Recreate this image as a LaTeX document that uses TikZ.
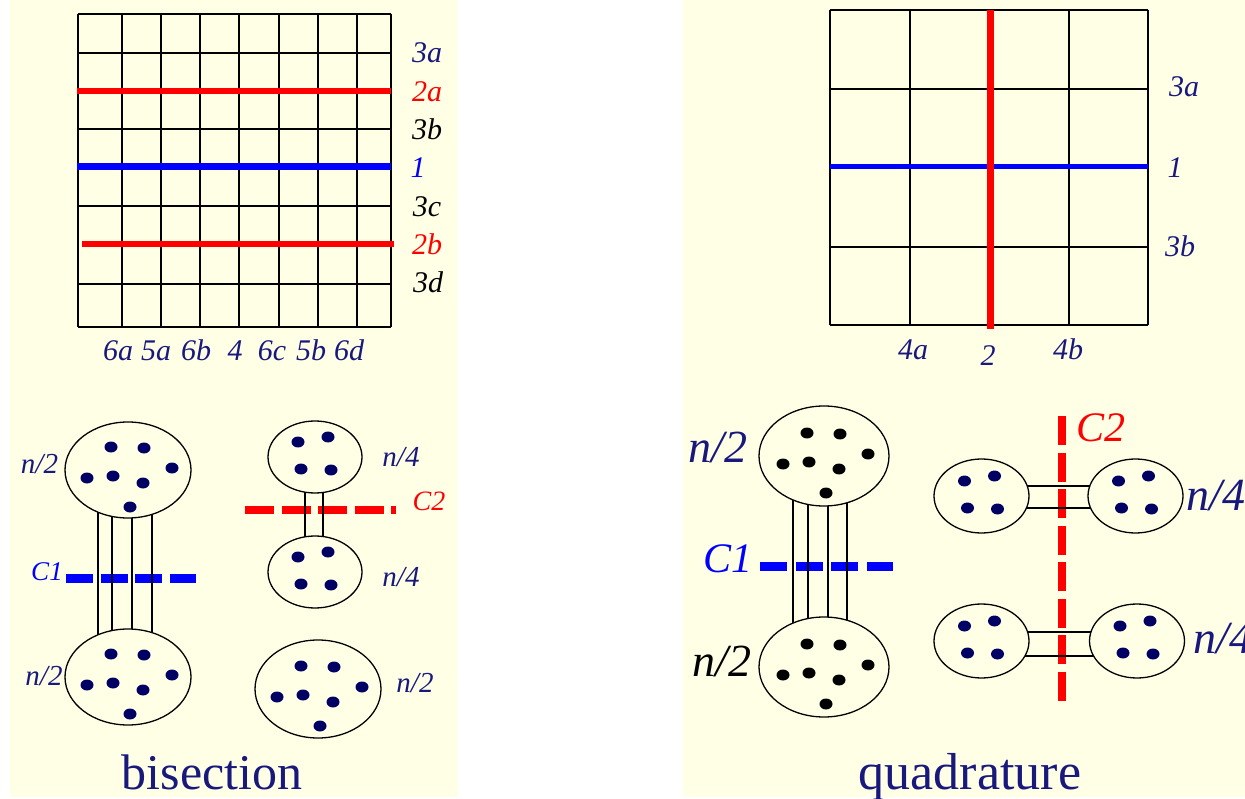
\documentclass[tikz,border=0pt]{standalone}
\usepackage{fontspec}
\setmainfont{Liberation Serif}
\newfontfamily\tnr{Liberation Serif}
\usetikzlibrary{shapes.geometric,calc}
\definecolor{cream}{RGB}{255,255,230}
\definecolor{navy}{RGB}{25,25,125}
\definecolor{dotnavy}{RGB}{0,0,100}
\newcommand\fsz[1]{\tnr\fontsize{#1}{#1}\selectfont}
\newcommand\sevendots[2]{\foreach \dx/\dy in {-17/-23,16/-22,44/-2,-41/8,-15/6,15/13,2/37}{\fill[#2] ($(#1)+(\dx,\dy)$) ellipse [x radius=6.5pt,y radius=5.5pt];}}
\newcommand\fourdots[2]{\foreach \dx/\dy in {-17/-15,13/-20,-14/12,16/13}{\fill[#2] ($(#1)+(\dx,\dy)$) ellipse [x radius=6.5pt,y radius=5.5pt];}}
\pgfdeclarelayer{panel}
\pgfdeclarelayer{links}
\pgfsetlayers{panel,links,main}
\begin{document}
\begin{tikzpicture}[x=1pt,y=-1pt,
  gridline/.style={line width=1.5pt,black},
  blob/.style={ellipse,draw,line width=1.3pt,fill=cream,inner sep=0pt,outer sep=0pt},
  bigblob/.style={blob,minimum width=126pt,minimum height=96pt},
  bigblobq/.style={blob,minimum width=130pt,minimum height=100pt},
  smallblob/.style={blob,minimum width=94pt,minimum height=72pt},
  link/.style={line width=1.2pt,black},
  lbl/.style={anchor=base,inner sep=0pt,font=\fsz{30}\itshape},
  lblbig/.style={anchor=base,inner sep=0pt,font=\fsz{46}\itshape},
  cutlbl/.style={anchor=base,inner sep=0pt,font=\fsz{42}\itshape},
  titlelbl/.style={anchor=base,inner sep=0pt,text=navy},
  bluecut/.style={blue,line width=9pt,dash pattern=on 27pt off 7.5pt},
  redcut/.style={red,line width=8.5pt,dash pattern=on 29pt off 7.5pt}
]
\useasboundingbox (0,0) rectangle (1245,799);
\begin{pgfonlayer}{panel}
\fill[white] (0,0) rectangle (1245,799);
\fill[cream] (10,0) rectangle (458,797);
\fill[cream] (683,0) rectangle (1245,797);
\end{pgfonlayer}

% ---------- left grid ----------
\foreach \x in {78,122,161,200,239,279,318,357,391} \draw[gridline] (\x,14) -- (\x,327);
\foreach \y in {14,53,129,206,284,327} \draw[gridline] (78,\y) -- (391,\y);
\draw[red,line width=6pt] (77,91) -- (391,91);
\draw[red,line width=6pt] (82,244) -- (394,244);
\draw[blue,line width=7pt] (77,167) -- (391,167);
\node[lbl,text=navy] (l3a) at (427,63) {3a};
\node[lbl,text=red] (l2a) at (427,102) {2a};
\node[lbl,text=black] (l3b) at (427,140) {3b};
\node[lbl,text=blue] (l1) at (418,178) {1};
\node[lbl,text=black] (l3c) at (427,217) {3c};
\node[lbl,text=red] (l2b) at (427,255) {2b};
\node[lbl,text=black] (l3d) at (428,293) {3d};
\node[lbl,text=navy] (l6a) at (118,361) {6a};
\node[lbl,text=navy] (l5a) at (156,361) {5a};
\node[lbl,text=navy] (l6b) at (196,361) {6b};
\node[lbl,text=navy] (l4) at (235,361) {4};
\node[lbl,text=navy] (l6c) at (272,361) {6c};
\node[lbl,text=navy] (l5b) at (311,361) {5b};
\node[lbl,text=navy] (l6d) at (349,361) {6d};

% ---------- right grid ----------
\foreach \x in {830,910,1069,1148} \draw[gridline] (\x,10) -- (\x,325);
\foreach \y in {10,89,247,325} \draw[gridline] (830,\y) -- (1148,\y);
\draw[blue,line width=5pt] (830,167) -- (1148,167);
\draw[red,line width=7pt] (990,10) -- (990,329);
\node[lbl,text=navy] (r3a) at (1184,97) {3a};
\node[lbl,text=navy] (r1) at (1175,178) {1};
\node[lbl,text=navy] (r3b) at (1180,257) {3b};
\node[lbl,text=navy] (r4a) at (913,360) {4a};
\node[lbl,text=navy] (r2) at (988,366) {2};
\node[lbl,text=navy] (r4b) at (1068,360) {4b};

% ---------- bisection ----------
\node[bigblob] (b1) at (128,470) {};
\node[bigblob] (b2) at (128,677) {};
\node[smallblob] (q1) at (315,457) {};
\node[smallblob] (q2) at (315,572) {};
\node[bigblob,minimum height=98pt] (b3) at (318,689) {};
\sevendots{b1}{dotnavy}
\sevendots{b2}{dotnavy}
\sevendots{b3}{dotnavy}
\fourdots{q1}{dotnavy}
\fourdots{q2}{dotnavy}
\coordinate (c1a) at (66,578);
\coordinate (c1b) at (196,578);
\coordinate (c2a) at (245,510);
\coordinate (c2b) at (396,510);
\begin{pgfonlayer}{links}
\draw[bluecut] (c1a) -- (c1b);
\draw[redcut] (c2a) -- (c2b);
\foreach \dx in {-30,-16,4,24} \draw[link] ($(b1)+(\dx,0)$) -- ($(b2)+(\dx,0)$);
\foreach \dx in {-10,8} \draw[link] ($(q1)+(\dx,0)$) -- ($(q2)+(\dx,0)$);
\end{pgfonlayer}
\node[lbl,font=\fsz{29}\itshape,text=navy] (bn1) at (39.5,473) {n/2};
\node[lbl,font=\fsz{29}\itshape,text=navy] (bn2) at (44,685) {n/2};
\node[lbl,font=\fsz{29}\itshape,text=navy] (bn3) at (401,466) {n/4};
\node[lbl,font=\fsz{29}\itshape,text=navy] (bn4) at (401,586) {n/4};
\node[lbl,font=\fsz{29}\itshape,text=navy] (bn5) at (415,692) {n/2};
\node[lbl,font=\fsz{27}\itshape,text=blue] (bc1) at (47,580) {C1};
\node[lbl,font=\fsz{28}\itshape,text=red] (bc2) at (429,510) {C2};
\node[titlelbl,font=\fsz{50}] (bt) at (212,789) {bisection};

% ---------- quadrature ----------
\node[bigblobq] (Q1) at (824,456) {};
\node[bigblobq] (Q2) at (824,667) {};
\node[smallblob,minimum width=95pt,minimum height=74pt] (T1) at (981.5,496) {};
\node[smallblob,minimum width=95pt,minimum height=74pt] (T2) at (1135.5,496) {};
\node[smallblob,minimum width=95pt,minimum height=74pt] (U1) at (981.5,641) {};
\node[smallblob,minimum width=95pt,minimum height=74pt] (U2) at (1137,641) {};
\sevendots{Q1}{black}
\sevendots{Q2}{black}
\fourdots{T1}{dotnavy}
\fourdots{T2}{dotnavy}
\fourdots{U1}{dotnavy}
\fourdots{U2}{dotnavy}
\coordinate (d1a) at (760,566);
\coordinate (d1b) at (893,566);
\coordinate (d2a) at (1062,416);
\coordinate (d2b) at (1062,707);
\begin{pgfonlayer}{links}
\draw[bluecut,dash pattern=on 27pt off 8.5pt] (d1a) -- (d1b);
\draw[redcut] (d2a) -- (d2b);
\foreach \dx in {-31,-16,4,23} \draw[link] ($(Q1)+(\dx,0)$) -- ($(Q2)+(\dx,0)$);
\foreach \dy in {-10,12} \draw[link] ($(T1)+(0,\dy)$) -- ($(T2)+(0,\dy)$);
\foreach \dy in {-9,15} \draw[link] ($(U1)+(0,\dy)$) -- ($(U2)+(0,\dy)$);
\end{pgfonlayer}
\node[lblbig,text=navy] (qn1) at (718,462) {n/2};
\node[lblbig,text=black] (qn2) at (722,676) {n/2};
\node[lblbig,anchor=base west,text=navy] (qn3) at (1186,510) {n/4};
\node[lblbig,anchor=base west,text=navy] (qn4) at (1193,653) {n/4};
\node[cutlbl,text=blue] (qc1) at (727.5,572) {C1};
\node[cutlbl,text=red] (qc2) at (1101,442) {C2};
\node[titlelbl,font=\fsz{52}] (qt) at (970,789) {quadrature};
\end{tikzpicture}
\end{document}
